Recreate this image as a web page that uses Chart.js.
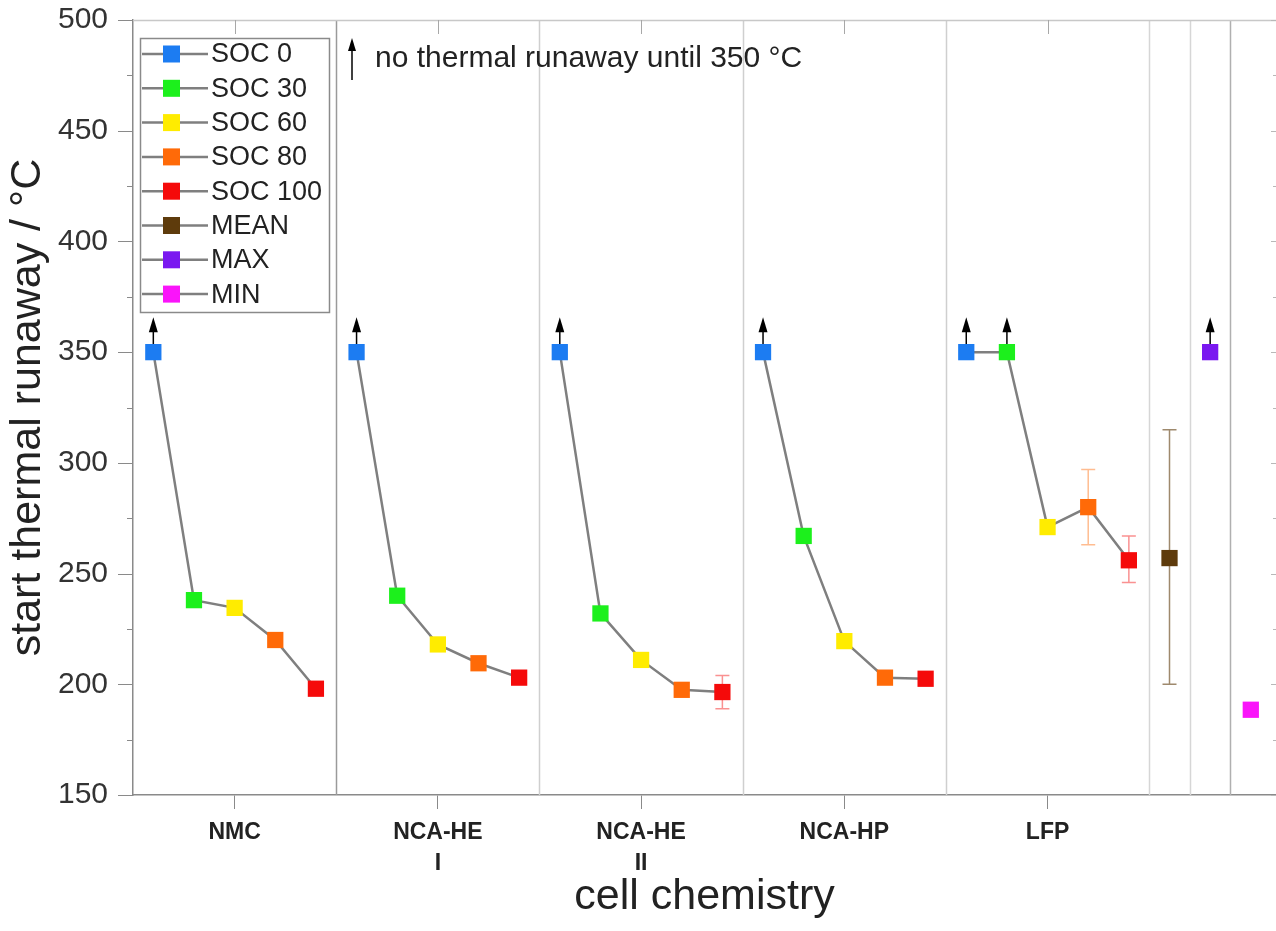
<!DOCTYPE html>
<html>
<head>
<meta charset="utf-8">
<script src="https://cdn.jsdelivr.net/npm/chart.js@4"></script>
<style>
  html, body { margin: 0; padding: 0; background: #fff; overflow: hidden; }
  canvas { display: block; }
</style>
</head>
<body>
<canvas id="runawayChart" width="1276" height="931"></canvas>
<script>
// ===== Data =====
const categories = [['NMC'], ['NCA-HE', 'I'], ['NCA-HE', 'II'], ['NCA-HP'], ['LFP']];
const socLabels = ['SOC 0', 'SOC 30', 'SOC 60', 'SOC 80', 'SOC 100'];
const socColors = ['#1c7cf2', '#1cf01c', '#ffec00', '#ff6a08', '#f50a0a'];

const nmcValues    = [350, 238, 234.5, 220, 198];
const ncaHe1Values = [350, 240, 218, 209.5, 203];
const ncaHe2Values = [350, 232, 211, 197.5, 196.5];
const ncaHpValues  = [350, 267, 219.5, 203, 202.5];
const lfpValues    = [350, 350, 271, 280, 256];

const ncaHe2ErrLow  = [null, null, null, null, 189];
const ncaHe2ErrHigh = [null, null, null, null, 204];
const lfpErrLow  = [null, null, null, 263, 246];
const lfpErrHigh = [null, null, null, 297, 267];

// true = no thermal runaway until 350 °C
const nmcNoRunaway    = [true, false, false, false, false];
const ncaHe1NoRunaway = [true, false, false, false, false];
const ncaHe2NoRunaway = [true, false, false, false, false];
const ncaHpNoRunaway  = [true, false, false, false, false];
const lfpNoRunaway    = [true, true, false, false, false];

const statLabels = ['MEAN', 'MAX', 'MIN'];
const statColors = ['#5e3b0c', '#7a18f0', '#fa14fa'];
const statValues = [257, 350, 188.5];
const statErrLow  = [200, null, null];
const statErrHigh = [315, null, null];
const statNoRunaway = [false, true, false];

const yTicks = [150, 200, 250, 300, 350, 400, 450, 500];

// ===== Utility =====
function hexToRgba(hex, alpha) {
  const r = parseInt(hex.slice(1, 3), 16);
  const g = parseInt(hex.slice(3, 5), 16);
  const b = parseInt(hex.slice(5, 7), 16);
  return `rgba(${r}, ${g}, ${b}, ${alpha})`;
}

function zeroPadding(s) {
  s.paddingLeft = 0;
  s.paddingRight = 0;
  s.paddingTop = 0;
  s.paddingBottom = 0;
}

// ===== Datasets =====
const groupSize = socLabels.length;
const chemValues = [nmcValues, ncaHe1Values, ncaHe2Values, ncaHpValues, lfpValues];
const chemErrLow = [null, null, ncaHe2ErrLow, null, lfpErrLow];
const chemErrHigh = [null, null, ncaHe2ErrHigh, null, lfpErrHigh];
const chemNoRunaway = [nmcNoRunaway, ncaHe1NoRunaway, ncaHe2NoRunaway, ncaHpNoRunaway, lfpNoRunaway];

const datasets = [];
chemValues.forEach((vals, g) => {
  datasets.push({
    label: categories[g].join(' '),
    data: vals.map((v, i) => ({ x: g * groupSize + i, y: v })),
    showLine: true,
    borderColor: '#7f7f7f',
    borderWidth: 2.5,
    pointStyle: 'rect',
    pointRadius: 11.5,
    pointHoverRadius: 11.5,
    pointBorderWidth: 0,
    pointBackgroundColor: socColors,
    errLow: chemErrLow[g],
    errHigh: chemErrHigh[g],
    errColors: socColors.map(c => hexToRgba(c, 0.45)),
    noRunaway: chemNoRunaway[g]
  });
});
statLabels.forEach((lab, k) => {
  datasets.push({
    label: lab,
    data: [{ x: chemValues.length * groupSize + k, y: statValues[k] }],
    showLine: false,
    pointStyle: 'rect',
    pointRadius: 11.5,
    pointHoverRadius: 11.5,
    pointBorderWidth: 0,
    pointBackgroundColor: statColors[k],
    errLow: [statErrLow[k]],
    errHigh: [statErrHigh[k]],
    errColors: [hexToRgba(statColors[k], 0.6)],
    noRunaway: [statNoRunaway[k]]
  });
});

// ===== Decoration plugin =====
const decoPlugin = {
  id: 'deco',
  beforeDatasetsDraw(chart) {
    const { ctx, chartArea: a, scales: { x, y } } = chart;
    ctx.save();

    // group separators
    const seps = [];
    for (let g = 0; g < chemValues.length; g++) seps.push(g * groupSize + groupSize - 0.5);
    seps.push(chemValues.length * groupSize + 0.5, chemValues.length * groupSize + 1.5);
    const sepColors = ['#9a9a9a', '#cfcfcf', '#cfcfcf', '#cfcfcf', '#d6d6d6', '#d6d6d6', '#b0b0b0'];
    seps.forEach((s, i) => {
      const px = Math.round(x.getPixelForValue(s)) + 0.5;
      ctx.strokeStyle = sepColors[i];
      ctx.lineWidth = 1.5;
      ctx.beginPath();
      ctx.moveTo(px, a.top);
      ctx.lineTo(px, a.bottom);
      ctx.stroke();
    });

    // top border
    ctx.strokeStyle = '#c8c8c8';
    ctx.lineWidth = 1.5;
    ctx.beginPath();
    ctx.moveTo(a.left, a.top + 0.5);
    ctx.lineTo(a.right, a.top + 0.5);
    ctx.stroke();

    // top mirrored ticks
    ctx.strokeStyle = '#a8a8a8';
    ctx.lineWidth = 1;
    x.ticks.forEach(t => {
      const px = Math.round(x.getPixelForValue(t.value)) + 0.5;
      ctx.beginPath();
      ctx.moveTo(px, a.top);
      ctx.lineTo(px, a.top + 14);
      ctx.stroke();
    });

    // y ticks, left outward, right inward, minor every 25
    y.ticks.forEach(t => {
      const py = Math.round(y.getPixelForValue(t.value)) + 0.5;
      const major = t.value % 50 === 0;
      ctx.strokeStyle = '#8a8a8a';
      ctx.beginPath();
      ctx.moveTo(a.left - (major ? 15 : 6), py);
      ctx.lineTo(a.left, py);
      ctx.stroke();
      ctx.strokeStyle = '#b8b8b8';
      ctx.beginPath();
      ctx.moveTo(a.right, py);
      ctx.lineTo(a.right - (major ? 5 : 3), py);
      ctx.stroke();
    });

    // error bars and arrows
    chart.data.datasets.forEach((ds, di) => {
      const meta = chart.getDatasetMeta(di);
      meta.data.forEach((pt, i) => {
        const lo = ds.errLow ? ds.errLow[i] : null;
        const hi = ds.errHigh ? ds.errHigh[i] : null;
        if (lo != null && hi != null) {
          const yl = y.getPixelForValue(lo);
          const yh = y.getPixelForValue(hi);
          ctx.strokeStyle = ds.errColors[i];
          ctx.lineWidth = 1.5;
          ctx.beginPath();
          ctx.moveTo(pt.x, yl); ctx.lineTo(pt.x, yh);
          ctx.moveTo(pt.x - 7, yl); ctx.lineTo(pt.x + 7, yl);
          ctx.moveTo(pt.x - 7, yh); ctx.lineTo(pt.x + 7, yh);
          ctx.stroke();
        }
        if (ds.noRunaway && ds.noRunaway[i]) {
          const tip = pt.y - 35;
          ctx.strokeStyle = '#000';
          ctx.fillStyle = '#000';
          ctx.lineWidth = 1.5;
          ctx.beginPath();
          ctx.moveTo(pt.x, pt.y - 4);
          ctx.lineTo(pt.x, tip + 10);
          ctx.stroke();
          ctx.beginPath();
          ctx.moveTo(pt.x, tip);
          ctx.lineTo(pt.x - 4.5, tip + 15);
          ctx.lineTo(pt.x + 4.5, tip + 15);
          ctx.closePath();
          ctx.fill();
        }
      });
    });
    ctx.restore();
  },
  afterDatasetsDraw(chart) {
    const { ctx, chartArea: a } = chart;
    ctx.save();

    // legend box
    const bx = a.left + 7, by = a.top + 18, bw = 189, bh = 274;
    ctx.fillStyle = '#fff';
    ctx.fillRect(bx, by, bw, bh);
    ctx.strokeStyle = '#8a8a8a';
    ctx.lineWidth = 1.5;
    ctx.strokeRect(bx + 0.5, by + 0.5, bw, bh);
    const items = socLabels.map((l, i) => [l, socColors[i]])
      .concat(statLabels.map((l, i) => [l, statColors[i]]));
    ctx.font = '27px "Liberation Sans", Arial, sans-serif';
    ctx.textBaseline = 'middle';
    items.forEach(([lab, col], i) => {
      const cy = by + 16 + i * 34.3;
      ctx.strokeStyle = '#7f7f7f';
      ctx.lineWidth = 2.5;
      ctx.beginPath();
      ctx.moveTo(bx + 2, cy);
      ctx.lineTo(bx + 68, cy);
      ctx.stroke();
      ctx.fillStyle = col;
      ctx.fillRect(bx + 23, cy - 8.5, 17, 17);
      ctx.fillStyle = '#222';
      ctx.fillText(lab, bx + 71, cy + 1);
    });

    // annotation
    const ax = a.left + 219;
    ctx.strokeStyle = '#000';
    ctx.fillStyle = '#000';
    ctx.lineWidth = 1.5;
    ctx.beginPath();
    ctx.moveTo(ax, a.top + 60);
    ctx.lineTo(ax, a.top + 28);
    ctx.stroke();
    ctx.beginPath();
    ctx.moveTo(ax, a.top + 18);
    ctx.lineTo(ax - 4, a.top + 31);
    ctx.lineTo(ax + 4, a.top + 31);
    ctx.closePath();
    ctx.fill();
    ctx.fillStyle = '#222';
    ctx.font = '30px "Liberation Sans", Arial, sans-serif';
    ctx.fillText('no thermal runaway until 350 °C', ax + 23, a.top + 39);
    ctx.restore();
  }
};

// ===== Create Chart =====
const ctx = document.getElementById('runawayChart').getContext('2d');
new Chart(ctx, {
  type: 'scatter',
  data: { datasets },
  options: {
    responsive: false,
    animation: false,
    events: [],
    layout: { autoPadding: false, padding: { top: 20, right: 0, bottom: 0, left: 0 } },
    plugins: { legend: { display: false }, tooltip: { enabled: false } },
    scales: {
      x: {
        type: 'linear',
        min: -0.5,
        max: 27.62,
        afterBuildTicks: s => {
          s.ticks = categories.map((c, g) => ({ value: g * groupSize + (groupSize - 1) / 2 }));
        },
        afterFit: s => {
          s.height = 136;
          zeroPadding(s);
        },
        grid: { drawOnChartArea: false, drawTicks: true, tickLength: 14, color: '#8a8a8a', tickWidth: 1 },
        border: { color: '#8a8a8a', width: 1.5 },
        ticks: {
          autoSkip: false,
          maxRotation: 0,
          padding: 8,
          color: '#222',
          font: { family: '"Liberation Sans", Arial, sans-serif', size: 23, weight: 'bold', lineHeight: 1.35 },
          callback: v => categories[Math.round((v - (groupSize - 1) / 2) / groupSize)]
        },
        title: {
          display: true,
          text: 'cell chemistry',
          color: '#222',
          font: { family: '"Liberation Sans", Arial, sans-serif', size: 43, lineHeight: 1.2 },
          padding: { top: 0, bottom: 8 }
        }
      },
      y: {
        min: 150,
        max: 500,
        afterFit: s => {
          s.width = 133;
          zeroPadding(s);
        },
        grid: { drawOnChartArea: false, drawTicks: false },
        border: { color: '#8a8a8a', width: 1.5 },
        ticks: {
          stepSize: 25,
          padding: 25,
          color: '#333',
          font: { family: '"Liberation Sans", Arial, sans-serif', size: 30 },
          callback: v => (yTicks.includes(v) ? v : '')
        },
        title: {
          display: true,
          text: 'start thermal runaway / °C',
          color: '#222',
          font: { family: '"Liberation Sans", Arial, sans-serif', size: 43, lineHeight: 1.2 },
          padding: { top: 2, bottom: 0 }
        }
      }
    }
  },
  plugins: [decoPlugin]
});
</script>
</body>
</html>
